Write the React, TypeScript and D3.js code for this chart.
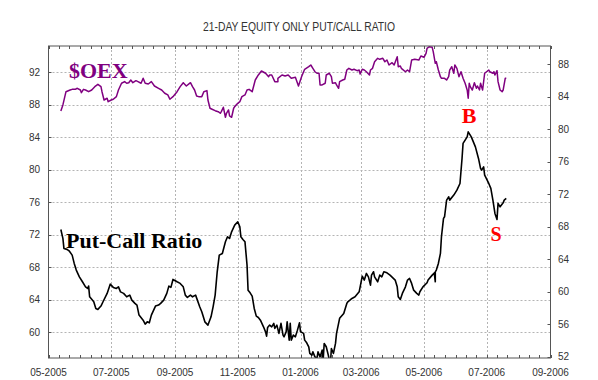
import React from "react";
import * as d3 from "d3";

// ---- DATA ----
const titleText = "21-DAY EQUITY ONLY PUT/CALL RATIO";
const startDate = new Date(2005, 4, 1);
const endDate = new Date(2006, 8, 1);
const leftTicks = [60, 64, 68, 72, 76, 80, 84, 88, 92];
const rightTicks = [52, 56, 60, 64, 68, 72, 76, 80, 84, 88];

// Put-call ratio (right axis): day offsets from 2005-05-01, values
const pcDays = [12,14,15,18,20,23,25,27,30,33,36,38,39,40,44,46,48,51,53,57,60,63,66,68,70,73,76,79,81,84,86,88,92,94,96,98,100,104,107,109,112,115,117,119,121,125,128,131,133,135,138,140,143,147,149,150,152,155,158,160,162,164,166,169,172,174,176,178,181,184,186,187,189,191,193,194,196,198,200,202,204,206,209,211,212,213,215,217,219,220,222,224,226,228,229,231,232,234,235,236,238,240,242,244,245,248,249,251,253,254,256,257,259,261,262,264,266,267,268,270,272,274,275,277,279,280,282,283,287,290,291,293,295,298,302,305,307,309,311,313,314,316,317,320,322,324,326,329,332,337,339,340,342,344,347,349,351,353,355,358,360,361,364,368,369,373,375,376,376,377,379,381,382,384,385,387,389,390,394,397,400,402,403,407,408,411,415,418,420,421,423,424,428,430,432,434,436,437,439,442,443,445];
const pcVals = [67.65,66.55,65.32,65.2,65.02,64.49,63.47,62.65,61.82,61.21,60.59,60.39,60.68,59.36,58.75,57.93,57.81,58.22,58.75,59.78,60.92,60.52,60.39,60.59,59.97,59.78,59.36,59.57,58.95,58.55,58.34,57.11,56.49,56.0,56.28,56.16,57.11,58.22,58.34,58.55,58.95,59.78,60.68,60.52,61.5,61.21,61.01,60.59,59.57,59.28,59.57,59.36,59.57,58.13,57.52,57.11,56.28,55.88,56.9,58.13,59.57,62.44,64.49,64.7,66.13,66.75,66.55,67.36,68.18,68.59,67.98,66.75,66.42,66.13,63.26,60.18,59.85,59.45,57.93,56.98,56.82,56.49,55.67,55.05,54.52,55.59,55.88,55.67,56.09,55.47,55.88,54.86,56.09,54.65,54.44,55.05,56.28,54.03,56.09,54.03,54.65,54.44,55.26,56.16,55.05,54.86,54.03,53.7,53.21,52.39,52.18,52.59,51.97,51.8,52.59,51.97,52.8,51.6,53.62,53.21,52.18,51.0,53.0,52.39,53.62,54.86,56.09,56.71,57.32,58.55,58.75,58.95,59.16,59.36,59.98,61.9,61.42,62.24,61.82,60.8,62.03,62.44,61.82,61.21,62.03,61.82,62.44,62.31,62.03,61.42,60.59,59.36,59.04,59.78,60.59,61.42,61.62,61.01,60.18,59.78,59.57,59.98,60.59,61.09,61.42,62.03,62.3,61.21,62.44,62.65,63.47,64.7,66.75,69.01,69.21,71.26,71.67,71.26,71.88,72.49,73.31,76.39,78.24,79.05,79.67,79.05,77.82,76.39,75.16,74.95,75.36,74.34,73.31,72.7,71.26,69.62,68.89,70.86,70.44,70.93,71.26,71.47];

// $OEX (left axis): day offsets from 2005-05-01, values
const oexDays = [12,14,17,21,23,26,28,31,32,34,36,39,42,45,48,51,52,54,57,58,61,63,66,68,71,74,76,78,80,82,85,87,90,92,94,97,100,103,107,110,113,116,118,121,125,128,131,134,138,140,142,144,146,149,151,154,155,157,159,162,165,167,168,170,172,173,175,176,178,180,181,184,186,188,191,193,195,198,201,204,207,211,214,215,217,220,223,223,227,230,233,236,240,243,246,249,253,255,257,259,261,263,264,266,269,270,273,275,276,279,280,282,283,286,288,290,292,295,297,300,302,303,305,307,309,312,313,315,317,320,322,325,327,329,331,334,336,339,340,342,343,347,349,351,353,356,360,362,365,367,368,370,373,374,376,377,379,381,382,385,387,389,390,392,394,395,397,399,401,403,405,407,408,409,410,412,414,416,417,419,420,422,424,428,429,432,433,434,436,437,439,441,442,444,445];
const oexVals = [87.24,87.98,89.61,89.82,89.9,89.9,90.03,89.82,89.49,89.9,89.82,89.61,89.82,90.23,90.52,90.23,89.61,88.59,88.8,88.38,88.59,88.68,89.0,89.82,90.65,90.85,90.65,90.72,91.05,90.72,90.97,90.85,90.65,91.26,90.65,90.56,90.85,90.31,90.03,89.82,89.42,89.21,88.68,89.0,89.61,90.23,90.72,90.31,90.72,90.23,89.82,89.08,89.0,89.0,89.61,89.74,88.59,87.57,87.45,87.27,87.15,86.95,87.15,87.69,86.46,86.95,87.36,86.62,86.46,87.57,87.77,88.18,88.38,89.0,89.21,89.82,89.9,89.61,91.05,91.67,92.16,91.88,91.46,91.67,91.67,90.85,90.85,91.26,91.67,91.54,91.67,91.26,91.38,90.31,91.46,92.37,92.69,92.9,92.49,92.07,91.88,91.88,90.44,90.44,90.65,91.67,91.88,91.46,90.65,90.72,90.44,90.03,90.85,91.05,91.14,92.28,92.49,92.28,92.37,92.2,92.28,91.79,92.37,92.28,92.07,91.67,92.28,92.49,93.3,93.72,93.6,93.72,93.3,93.51,92.9,93.18,92.9,93.92,92.69,92.78,92.49,92.07,92.28,92.07,93.51,93.6,93.51,94.01,93.85,94.34,94.95,95.15,95.08,94.54,93.11,93.3,92.28,91.46,91.26,91.26,91.05,91.46,92.28,92.69,91.88,92.9,92.49,91.46,92.07,91.26,90.65,89.82,88.8,90.65,90.23,89.82,90.72,90.03,90.31,89.82,90.65,89.82,91.88,92.28,92.07,91.88,92.07,91.67,92.2,90.85,89.82,89.61,89.82,91.26,91.26];

// ---- LAYOUT ----
const W = 598, H = 380;
const L = 48.5, R = 550.5, T = 46, B = 358;

export default function App() {
  const x = d3.scaleTime().domain([startDate, endDate]).range([L, R]);
  const yL = d3.scaleLinear().domain([56.8, 95.24]).range([B, T]);
  const yR = d3.scaleLinear().domain([51.83, 90.23]).range([B, T]);

  const pcData = pcDays.map((d, i) => ({ date: d3.timeDay.offset(startDate, d), v: pcVals[i] }));
  const oexData = oexDays.map((d, i) => ({ date: d3.timeDay.offset(startDate, d), v: oexVals[i] }));

  const pcLine = d3.line<any>().x(d => x(d.date)).y(d => yR(d.v));
  const oexLine = d3.line<any>().x(d => x(d.date)).y(d => yL(d.v));

  const monthTicks = d3.timeMonth.every(2)!.range(startDate, d3.timeDay.offset(endDate, 1));
  const innerMonths = monthTicks.filter(d => +d > +startDate && +d < +endDate);
  const minor = d3.timeDay.range(startDate, d3.timeDay.offset(endDate, 1)).filter(d => [1, 11, 21].includes(d.getDate()));
  const fmt = d3.timeFormat("%m-%Y");

  const labelFont = "'Liberation Sans', Arial, sans-serif";
  const serif = "'Liberation Serif', 'Times New Roman', serif";

  return (
    <div style={{ position: "absolute", left: 0, top: 0 }}>
      <svg width={W} height={H} style={{ display: "block", background: "#fff" }}>
        <defs>
          <clipPath id="plotclip">
            <rect x={L} y={T} width={R - L} height={B - T} />
          </clipPath>
        </defs>
        <rect width={W} height={H} fill="#fff" />
        <text x={299} y={31} textAnchor="middle" fontFamily={labelFont} fontSize={12} fill="#333"
          textLength={192} lengthAdjust="spacingAndGlyphs">{titleText}</text>

        {/* gridlines */}
        {leftTicks.map(t => (
          <line key={"gy" + t} x1={L} x2={R} y1={Math.round(yL(t)) + 0.5} y2={Math.round(yL(t)) + 0.5}
            stroke="#b4b4b4" strokeDasharray="2,2" />
        ))}
        {innerMonths.map(d => (
          <line key={"gx" + +d} x1={Math.round(x(d)) + 0.5} x2={Math.round(x(d)) + 0.5} y1={T} y2={B}
            stroke="#b4b4b4" strokeDasharray="2,2" />
        ))}

        {/* minor ticks top/bottom */}
        {minor.map(d => {
          const xx = Math.round(x(d)) + 0.5;
          return (
            <g key={"mt" + +d}>
              <line x1={xx} x2={xx} y1={T} y2={T + 3} stroke="#555" />
              <line x1={xx} x2={xx} y1={B} y2={B - 3} stroke="#555" />
            </g>
          );
        })}
        {/* left ticks */}
        {leftTicks.map(t => (
          <line key={"lt" + t} x1={L} x2={L + 3} y1={Math.round(yL(t)) + 0.5} y2={Math.round(yL(t)) + 0.5} stroke="#555" />
        ))}
        {/* right ticks */}
        {rightTicks.map(t => (
          <line key={"rt" + t} x1={R} x2={R - 3} y1={Math.round(yR(t)) + 0.5} y2={Math.round(yR(t)) + 0.5} stroke="#555" />
        ))}

        {/* series */}
        <g clipPath="url(#plotclip)">
          <path d={oexLine(oexData) || ""} fill="none" stroke="#800080" strokeWidth={1.5} strokeLinejoin="round" />
          <path d={pcLine(pcData) || ""} fill="none" stroke="#000" strokeWidth={1.6} strokeLinejoin="round" />
        </g>

        {/* frame */}
        <rect x={L} y={T} width={R - L} height={B - T} fill="none" stroke="#555" strokeWidth={1} />

        {/* axis labels */}
        {leftTicks.map(t => (
          <text key={"ll" + t} x={40} y={yL(t)} dy="0.35em" textAnchor="end" fontFamily={labelFont} fontSize={10} fill="#333">{t}</text>
        ))}
        {rightTicks.map(t => (
          <text key={"rl" + t} x={558} y={yR(t)} dy="0.35em" textAnchor="start" fontFamily={labelFont} fontSize={10} fill="#333">{t}</text>
        ))}
        {monthTicks.map(d => (
          <text key={"xl" + +d} x={x(d)} y={376} textAnchor="middle" fontFamily={labelFont} fontSize={10} fill="#333">{fmt(d)}</text>
        ))}

        {/* annotations */}
        <text x={69} y={78} fontFamily={serif} fontWeight="bold" fontSize={22} fill="#800080">$OEX</text>
        <text x={66} y={248} fontFamily={serif} fontWeight="bold" fontSize={22} fill="#000">Put-Call Ratio</text>
        <text x={469} y={123} textAnchor="middle" fontFamily={serif} fontWeight="bold" fontSize={22} fill="#ff0000">B</text>
        <text x={496} y={240.5} textAnchor="middle" fontFamily={serif} fontWeight="bold" fontSize={20} fill="#ff0000">S</text>
      </svg>
    </div>
  );
}
